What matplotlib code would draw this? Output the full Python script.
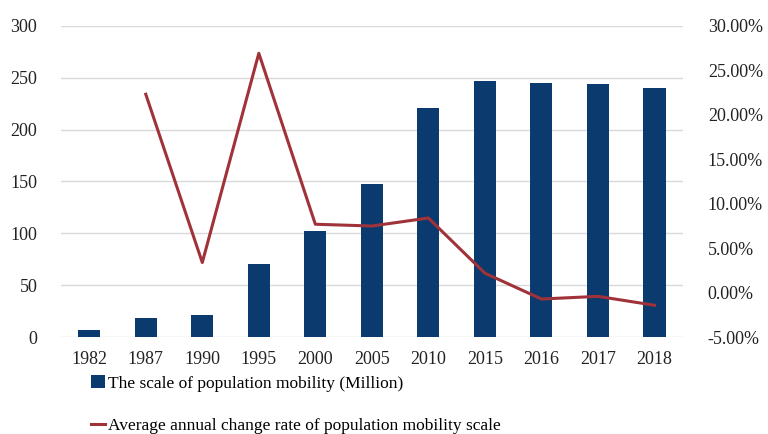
import matplotlib
matplotlib.use("Agg")
import matplotlib.pyplot as plt
from matplotlib.ticker import FuncFormatter
from matplotlib.patches import Patch
from matplotlib.lines import Line2D

years = ["1982", "1987", "1990", "1995", "2000", "2005", "2010", "2015", "2016", "2017", "2018"]
scale_million = [6.7, 18.3, 21.5, 70.2, 102.3, 147.2, 220.8, 246.4, 244.8, 244.2, 240.3]
change_rate_pct = [None, 22.3, 3.4, 26.9, 7.7, 7.5, 8.4, 2.2, -0.7, -0.4, -1.4]

bar_label = "The scale of population mobility (Million)"
line_label = "Average annual change rate of population mobility scale"

bar_color = "#0b3a6e"
line_color = "#a0323a"

plt.rcParams['font.family'] = ['Liberation Serif', 'DejaVu Serif']

fig = plt.figure(figsize=(7.68, 4.34), dpi=100)
ax = fig.add_axes([0.0794, 0.2228, 0.8096, 0.718])
x = list(range(len(years)))
ax.bar(x, scale_million, width=0.39, color=bar_color, zorder=3)
ax.set_ylim(0, 300)
ax.set_yticks(range(0, 301, 50))
ax.set_xlim(-0.5, len(years) - 0.5)
ax.set_xticks(x)
ax.set_xticklabels(years)
ax.grid(axis='y', color='#d9d9d9', linewidth=1.0, zorder=0)
ax.set_axisbelow(True)
for s in ax.spines.values():
    s.set_visible(False)
ax.tick_params(axis='both', length=0, labelsize=13, colors='#222222')
ax.tick_params(axis='y', pad=17)
ax.tick_params(axis='x', pad=10)

ax2 = ax.twinx()
lx = [xi for xi, v in zip(x, change_rate_pct) if v is not None]
ly = [v for v in change_rate_pct if v is not None]
ax2.plot(lx, ly, color=line_color, linewidth=2.2, zorder=4)
ax2.set_ylim(-5, 30)
ax2.set_yticks(range(-5, 31, 5))
ax2.yaxis.set_major_formatter(FuncFormatter(lambda v, p: f"{v:.2f}%"))
for s in ax2.spines.values():
    s.set_visible(False)
ax2.tick_params(axis='y', length=0, labelsize=13, pad=18, colors='#222222')

handles = [Patch(facecolor=bar_color, edgecolor='none'),
           Line2D([0], [0], color=line_color, linewidth=2.2)]
fig.legend(handles, [bar_label, line_label], loc='upper left',
           bbox_to_anchor=(0.119, 0.136), frameon=False, fontsize=12.5,
           handlelength=0.8, handleheight=0.8, handletextpad=0.15,
           labelspacing=1.5, borderaxespad=0, borderpad=0)

fig.savefig("out.png", dpi=100)
